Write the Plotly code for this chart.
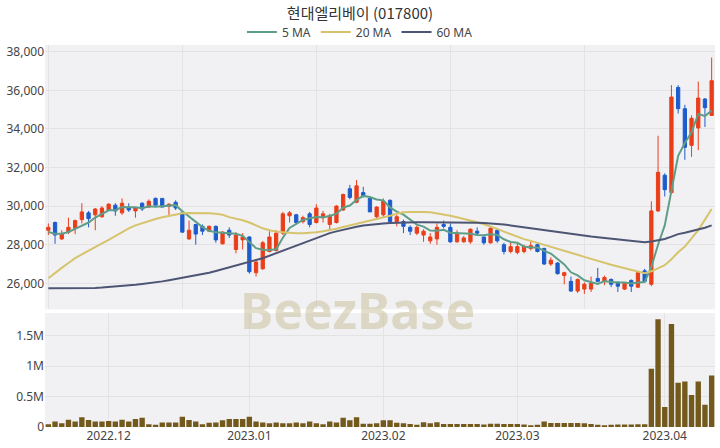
import pandas as pd
import plotly.graph_objects as go

# ---------------- data ----------------
holidays = ["2022-12-30", "2023-01-23", "2023-01-24", "2023-03-01"]
dates = [d.strftime("%Y-%m-%d") for d in pd.bdate_range("2022-11-18", "2023-04-12")
         if d.strftime("%Y-%m-%d") not in holidays]

opens = [28750, 29150, 28300, 28650, 28850, 29300, 29650, 29550, 29450, 29800,
         30050, 29650, 29950, 29750, 30150, 29950, 30400, 30400, 30000, 30200,
         29650, 28300, 29050, 28950, 28700, 28950, 28050, 28750, 27750, 28250,
         28400, 26550, 26750, 27650, 27700, 28600, 29500, 29550, 29200, 29600,
         29150, 29400, 29050, 29150, 29800, 30900, 30200, 30700, 30400, 29450,
         29550, 30300, 29200, 29200, 28900, 28600, 28500, 28200, 28300, 29050,
         28900, 28150, 28150, 28150, 28700, 28400, 28100, 28750, 28000, 27650,
         27600, 27650, 27800, 28000, 27800, 27000, 27050, 26400, 26100, 25600,
         25700, 25700, 26250, 26100, 26200, 26050, 25700, 26150, 25800, 26650,
         25950, 29750, 31600, 30700, 36150, 35050, 33150, 34050, 35550, 34700]
highs = [29100, 29200, 28750, 29400, 29300, 30150, 29750, 29900, 30000, 30150,
         30150, 30400, 30150, 29950, 30200, 30350, 30450, 30400, 30150, 30300,
         29700, 29250, 29050, 29050, 29000, 29000, 28700, 28900, 28650, 28600,
         28450, 27150, 28200, 28700, 28750, 29700, 29750, 29600, 29500, 29700,
         30100, 29750, 29600, 30050, 30650, 31100, 31350, 31000, 30450, 30000,
         30400, 30350, 29550, 29300, 29000, 29000, 28800, 28600, 29100, 29250,
         29100, 28750, 28450, 28850, 28900, 28400, 28900, 28800, 28100, 28100,
         28050, 28000, 28150, 28100, 27850, 27350, 27100, 26600, 26350, 26250,
         26050, 26350, 26800, 26400, 26250, 26100, 26050, 26200, 26600, 26750,
         30250, 33650, 31700, 36270, 36270, 35250, 34700, 36450, 35600, 37700]
lows = [28500, 28050, 28250, 28550, 28550, 29100, 28900, 28750, 29400, 29750,
        29500, 29550, 29700, 29400, 29750, 29900, 30050, 29950, 29550, 29800,
        28650, 28250, 28000, 28500, 28650, 28100, 28000, 28350, 27550, 27750,
        26500, 26350, 26700, 27600, 27650, 28500, 29150, 29050, 29100, 28900,
        29100, 29150, 28700, 29100, 29750, 30350, 30150, 30450, 29700, 29300,
        29400, 29150, 28950, 28600, 28500, 28500, 28150, 28050, 28000, 28850,
        28100, 28100, 28100, 28050, 28450, 28000, 28050, 28100, 27500, 27550,
        27500, 27550, 27700, 27600, 26950, 26900, 26450, 25950, 25550, 25500,
        25450, 25550, 26050, 25900, 25800, 25550, 25650, 25550, 25750, 26050,
        25850, 29700, 30500, 30700, 34800, 32400, 32550, 32900, 34100, 34700]
closes = [28900, 28500, 28550, 28900, 29250, 29700, 29350, 29850, 29900, 30100,
          29750, 30150, 29800, 29900, 29850, 30250, 30050, 29950, 30100, 29900,
          28650, 28750, 28550, 28700, 28950, 28250, 28650, 28500, 28500, 28400,
          26600, 27100, 28100, 28400, 28600, 29600, 29650, 29150, 29400, 29050,
          29900, 29600, 29500, 30000, 30600, 30450, 31050, 30550, 29700, 29950,
          30250, 29200, 29450, 28950, 28700, 28900, 28700, 28400, 28900, 28950,
          28150, 28600, 28350, 28800, 28600, 28100, 28850, 28200, 27650, 27900,
          27900, 27900, 27950, 27650, 27000, 27200, 26500, 26550, 25600, 26200,
          25950, 26000, 26100, 26300, 25950, 25850, 26000, 25850, 26550, 26100,
          29750, 31750, 30850, 35650, 35050, 33050, 34550, 35600, 35100, 36500]
volumes = [45000, 90000, 62000, 120000, 90000, 160000, 115000, 90000, 92000, 100000,
           90000, 120000, 90000, 130000, 150000, 45000, 35000, 75000, 72000, 72000,
           170000, 115000, 92000, 45000, 70000, 72000, 112000, 130000, 132000, 130000,
           170000, 90000, 75000, 60000, 72000, 60000, 60000, 72000, 60000, 92000,
           60000, 45000, 92000, 72000, 150000, 112000, 160000, 55000, 55000, 60000,
           110000, 110000, 70000, 60000, 50000, 35000, 80000, 60000, 80000, 50000,
           50000, 50000, 50000, 50000, 50000, 40000, 55000, 55000, 50000, 50000,
           50000, 40000, 30000, 35000, 90000, 65000, 65000, 65000, 65000, 65000,
           60000, 50000, 35000, 30000, 35000, 40000, 40000, 40000, 45000, 45000,
           957000, 1770000, 330000, 1690000, 725000, 747000, 526000, 747000, 365000, 847000]

ma5_head = [28660, 28570, 28570, 28660]
ma20 = [26260, 26550, 26800, 27050, 27300, 27500, 27700, 27900, 28070, 28250,
        28450, 28650, 28850, 29000, 29120, 29230, 29330, 29420, 29500, 29580,
        29630, 29640, 29640, 29630, 29630, 29600, 29550, 29430, 29350, 29270,
        29150, 29000, 28850, 28750, 28680, 28650, 28620, 28600, 28600, 28620,
        28650, 28700, 28750, 28830, 28920, 29000, 29080, 29160, 29250, 29340,
        29420, 29500, 29600, 29680, 29700, 29710, 29700, 29680, 29630, 29580,
        29500, 29420, 29340, 29270, 29160, 29060, 28950, 28820, 28680, 28540,
        28390, 28290, 28200, 28100, 28010, 27920, 27820, 27700, 27590, 27480,
        27370, 27260, 27150, 27050, 26960, 26870, 26780, 26680, 26600, 26520,
        26620, 26790, 26940, 27250, 27610, 27900, 28300, 28750, 29300, 29850]
ma60 = [25740, 25740, 25740, 25740, 25740, 25740, 25750, 25760, 25780, 25800,
        25830, 25860, 25890, 25920, 25960, 26000, 26050, 26100, 26160, 26220,
        26280, 26340, 26400, 26470, 26550, 26640, 26740, 26850, 26950, 27040,
        27120, 27210, 27300, 27430, 27570, 27700, 27840, 27970, 28100, 28230,
        28360, 28480, 28600, 28690, 28780, 28860, 28930, 29000, 29040, 29070,
        29100, 29120, 29140, 29160, 29170, 29170, 29170, 29170, 29170, 29170,
        29170, 29160, 29160, 29150, 29140, 29120, 29100, 29080, 29050, 29000,
        28950, 28900, 28850, 28800, 28750, 28700, 28650, 28600, 28550, 28500,
        28460, 28420, 28390, 28350, 28310, 28270, 28230, 28190, 28150, 28130,
        28170, 28250, 28300, 28420, 28550, 28620, 28700, 28780, 28880, 29000]

grid_dates = ["2022-11-18", "2022-12-16", "2023-01-16", "2023-02-15", "2023-03-16"]
tick_dates = ["2022-12-01", "2023-01-02", "2023-02-01", "2023-03-02", "2023-04-03"]
tick_labels = ["2022.12", "2023.01", "2023.02", "2023.03", "2023.04"]
price_ticks = [26000, 28000, 30000, 32000, 34000, 36000, 38000]
vol_ticks = [0, 500000, 1000000, 1500000]
vol_tick_labels = ["0", "0.5M", "1M", "1.5M"]

ma5 = pd.Series(closes).rolling(5).mean().tolist()
ma5[:4] = ma5_head

# ---------------- figure ----------------
CJK = "Noto Sans CJK KR"
TICKFONT = "Noto Sans"
RED = "#ea3e1a"
BLUE = "#1d5ccc"

fig = go.Figure()
fig.add_trace(go.Candlestick(
    x=dates, open=opens, high=highs, low=lows, close=closes,
    increasing=dict(line=dict(color=RED, width=1), fillcolor=RED),
    decreasing=dict(line=dict(color=BLUE, width=1), fillcolor=BLUE),
    showlegend=False, xaxis="x", yaxis="y", whiskerwidth=0))
fig.add_trace(go.Scatter(x=dates, y=ma5, mode="lines", name="5 MA",
                         line=dict(color="#5e9e88", width=2), xaxis="x", yaxis="y"))
fig.add_trace(go.Scatter(x=dates, y=ma20, mode="lines", name="20 MA",
                         line=dict(color="#d6c46c", width=2), xaxis="x", yaxis="y"))
fig.add_trace(go.Scatter(x=dates, y=ma60, mode="lines", name="60 MA",
                         line=dict(color="#4d5574", width=2), xaxis="x", yaxis="y"))
fig.add_trace(go.Bar(x=dates, y=volumes, marker=dict(color="#735a1c", line=dict(width=0)),
                     showlegend=False, xaxis="x2", yaxis="y2"))

axis_common = dict(showline=False, zeroline=False, gridcolor="#e3e3e5", gridwidth=1,
                   automargin=False,
                   tickfont=dict(family=TICKFONT, size=12, color="#444"))

fig.update_layout(
    width=720, height=448,
    margin=dict(l=45, r=5, t=45, b=21, autoexpand=False),
    paper_bgcolor="white", plot_bgcolor="#f1f1f3",
    font=dict(family=TICKFONT, color="#444"),
    title=dict(text="현대엘리베이 (017800)", x=0.5, xanchor="center", y=1 - 14 / 448,
               yanchor="middle", yref="container",
               font=dict(family=CJK, size=15, color="#333")),
    legend=dict(orientation="h", x=0.47, xanchor="center", y=1 - 32 / 448, yanchor="middle",
                yref="container", font=dict(family=TICKFONT, size=12, color="#444"),
                bgcolor="rgba(0,0,0,0)", itemwidth=30),
    showlegend=True,
    bargap=0.2,
    xaxis=dict(axis_common, type="category", domain=[0, 1], anchor="y",
               range=[-0.5, len(dates) - 0.5], tickvals=grid_dates, showticklabels=False,
               rangeslider=dict(visible=False)),
    yaxis=dict(axis_common, domain=[0.308, 1], range=[24650, 38350],
               tickvals=price_ticks, tickformat=",d"),
    xaxis2=dict(axis_common, type="category", domain=[0, 1], anchor="y2", matches="x",
                range=[-0.5, len(dates) - 0.5], tickvals=tick_dates, ticktext=tick_labels),
    yaxis2=dict(axis_common, domain=[0, 0.298], range=[0, 1870000],
                tickvals=vol_ticks, ticktext=vol_tick_labels),
)

fig.add_annotation(text="<b>BeezBase</b>", xref="paper", yref="paper", x=0.467, y=0.306,
                   xanchor="center", yanchor="middle", showarrow=False,
                   font=dict(family="Noto Sans", size=50, color="rgba(200,190,150,0.5)"))

fig.write_html("out.html", config={"displayModeBar": False},
               post_script="document.body.style.margin='0';document.body.style.overflow='hidden';")
